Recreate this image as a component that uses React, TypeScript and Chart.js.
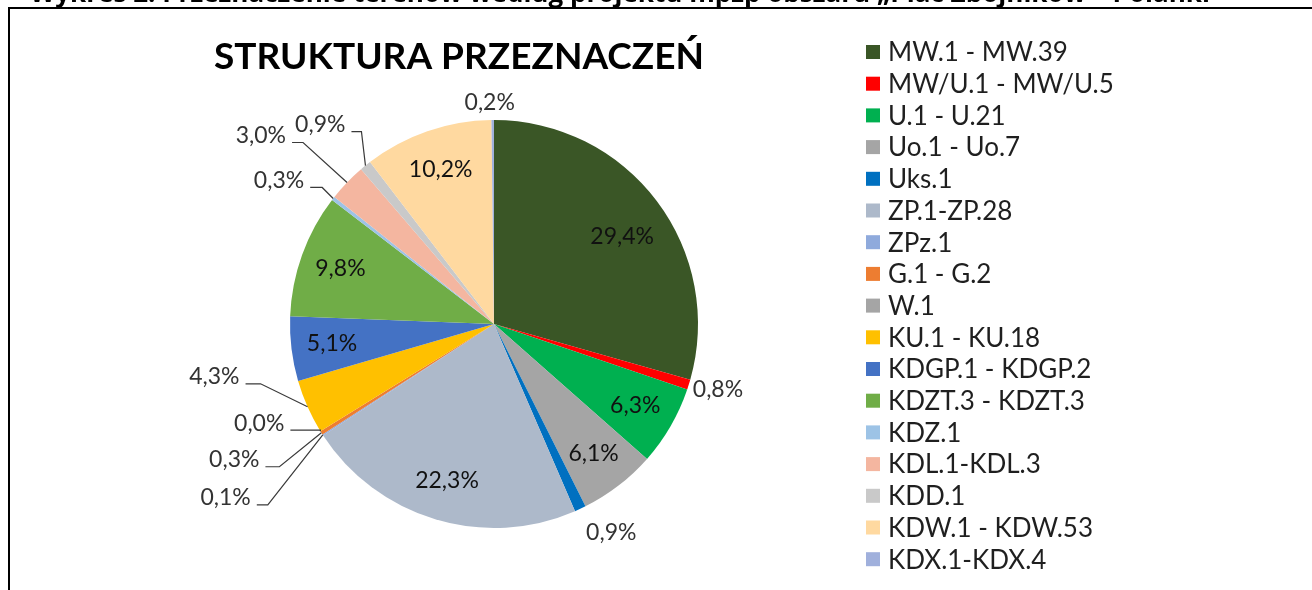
import React, { useEffect, useRef } from "react";
import { Chart, registerables } from "chart.js";

Chart.register(...registerables);

const headerText = "Wykres 2. Przeznaczenie terenów według projektu mpzp obszaru „Plac Zbójników – Polanki”";
const chartTitle = "STRUKTURA PRZEZNACZEŃ";

const categories = [
  "MW.1 - MW.39",
  "MW/U.1 - MW/U.5",
  "U.1 - U.21",
  "Uo.1 - Uo.7",
  "Uks.1",
  "ZP.1-ZP.28",
  "ZPz.1",
  "G.1 - G.2",
  "W.1",
  "KU.1 - KU.18",
  "KDGP.1 - KDGP.2",
  "KDZT.3 - KDZT.3",
  "KDZ.1",
  "KDL.1-KDL.3",
  "KDD.1",
  "KDW.1 - KDW.53",
  "KDX.1-KDX.4",
];

const shares = [29.4, 0.8, 6.3, 6.1, 0.9, 22.3, 0.1, 0.3, 0.0, 4.3, 5.1, 9.8, 0.3, 3.0, 0.9, 10.2, 0.2];

const colors = [
  "#3A5626",
  "#FF0000",
  "#00B050",
  "#A5A5A5",
  "#0070C0",
  "#ADB9CA",
  "#8FAADC",
  "#ED7D31",
  "#A5A5A5",
  "#FFC000",
  "#4472C4",
  "#70AD47",
  "#9DC3E6",
  "#F4B6A0",
  "#C9C9C9",
  "#FFD9A0",
  "#A0B0DC",
];

// label placement style per slice (relative to the slice geometry)
type LabelCfg =
  | { kind: "in"; dx?: number; dy?: number }
  | { kind: "out"; dx: number; dy: number; align: CanvasTextAlign }
  | { kind: "line"; px: number; py: number; elbow: number };

const labelLayout: LabelCfg[] = [
  { kind: "in", dx: -2, dy: 11 },
  { kind: "out", dx: 4, dy: 5, align: "left" },
  { kind: "in" },
  { kind: "in" },
  { kind: "out", dx: 31, dy: 24, align: "center" },
  { kind: "in" },
  { kind: "line", px: -66, py: 70, elbow: 11 },
  { kind: "line", px: -56, py: 34, elbow: 14 },
  { kind: "line", px: -30, py: -1, elbow: 30 },
  { kind: "line", px: -62, py: -23, elbow: 15 },
  { kind: "in" },
  { kind: "in" },
  { kind: "line", px: -23, py: -11, elbow: 12 },
  { kind: "line", px: -55, py: -40, elbow: 11 },
  { kind: "line", px: -14, py: -34, elbow: 10 },
  { kind: "in" },
  { kind: "out", dx: -3, dy: -17, align: "center" },
];

const fmt = (v: number) => v.toFixed(1).replace(".", ",") + "%";

const decorPlugin = {
  id: "decor",
  beforeDraw(chart: any) {
    const ctx = chart.ctx as CanvasRenderingContext2D;
    const W = chart.width;
    const H = chart.height;
    ctx.save();
    ctx.fillStyle = "#ffffff";
    ctx.fillRect(0, 0, W, H);

    // clipped header line of the document
    ctx.fillStyle = "#000000";
    ctx.textBaseline = "alphabetic";
    ctx.textAlign = "left";
    let fs = 24;
    ctx.font = `bold ${fs}px "Open Sans"`;
    const w0 = ctx.measureText(headerText).width;
    fs = fs * (1192 / w0);
    ctx.font = `bold ${fs}px "Open Sans"`;
    ctx.fillText(headerText, 30, 1.5);

    // frame
    ctx.fillStyle = "#000000";
    ctx.fillRect(8, 7, W - 8, 2);
    ctx.fillRect(8, 7, 2, H - 7);

    // title
    ctx.fillStyle = "#000000";
    ctx.font = "bold 37px Lato";
    ctx.textAlign = "center";
    ctx.textBaseline = "alphabetic";
    ctx.fillText(chartTitle, 459, 69);

    // legend
    ctx.font = "26px Lato";
    ctx.textAlign = "left";
    ctx.textBaseline = "middle";
    categories.forEach((c, i) => {
      const y = 52 + i * 31.7;
      ctx.fillStyle = colors[i];
      ctx.fillRect(866, y - 7, 14, 14);
      ctx.fillStyle = "#1f1f1f";
      ctx.fillText(c, 888, y + 1);
    });
    ctx.restore();
  },
  afterDatasetsDraw(chart: any) {
    const ctx = chart.ctx as CanvasRenderingContext2D;
    const meta = chart.getDatasetMeta(0);
    ctx.save();
    ctx.font = "23px Lato";
    ctx.textBaseline = "middle";
    meta.data.forEach((arc: any, i: number) => {
      const p = arc.getProps(["x", "y", "startAngle", "endAngle", "outerRadius"], true);
      const mid = (p.startAngle + p.endAngle) / 2;
      const cfg = labelLayout[i];
      const text = fmt(shares[i]);
      if (cfg.kind === "in") {
        const r = p.outerRadius * 0.8;
        const x = p.x + Math.cos(mid) * r + (cfg.dx || 0);
        const y = p.y + Math.sin(mid) * r + (cfg.dy || 0);
        ctx.fillStyle = "#111111";
        ctx.textAlign = "center";
        ctx.fillText(text, x, y);
      } else {
        const ax = p.x + Math.cos(mid) * p.outerRadius;
        const ay = p.y + Math.sin(mid) * p.outerRadius;
        ctx.fillStyle = "#333333";
        if (cfg.kind === "out") {
          ctx.textAlign = cfg.align;
          ctx.fillText(text, ax + cfg.dx, ay + cfg.dy);
        } else {
          const px = ax + cfg.px;
          const py = ay + cfg.py;
          const ex = px + cfg.elbow;
          ctx.strokeStyle = "#3a3a3a";
          ctx.lineWidth = 1.2;
          ctx.beginPath();
          ctx.moveTo(ax, ay);
          ctx.lineTo(ex, py);
          ctx.lineTo(px, py);
          ctx.stroke();
          ctx.textAlign = "right";
          ctx.fillText(text, px - 6, py - 7);
        }
      }
    });
    ctx.restore();
  },
};

export default function App() {
  const ref = useRef<HTMLCanvasElement | null>(null);
  useEffect(() => {
    document.body.style.margin = "0";
    if (!ref.current) return;
    const chart = new Chart(ref.current, {
      type: "pie",
      data: {
        labels: categories,
        datasets: [
          {
            data: shares,
            backgroundColor: colors,
            borderWidth: 0,
          },
        ],
      },
      options: {
        animation: false,
        responsive: false,
        maintainAspectRatio: false,
        layout: { padding: { left: 290, right: 614, top: 120, bottom: 62 } },
        plugins: {
          legend: { display: false },
          title: { display: false },
          tooltip: { enabled: false },
        },
      },
      plugins: [decorPlugin],
    });
    return () => chart.destroy();
  }, []);
  return (
    <div style={{ width: 1312, height: 590 }}>
      <canvas ref={ref} width={1312} height={590} style={{ display: "block" }} />
    </div>
  );
}
